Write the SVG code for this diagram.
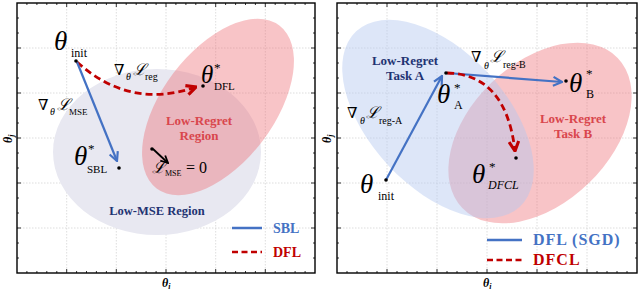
<svg xmlns="http://www.w3.org/2000/svg" width="640" height="291" viewBox="0 0 640 291">
<defs>
<style>
.frame{fill:none;stroke:#000;stroke-width:1.4}
.grid{stroke:#d4d4d4;stroke-width:0.8;stroke-dasharray:1.5,1.5}
.tick{stroke:#000;stroke-width:0.8}
.th{font-family:"Liberation Serif","DejaVu Serif",serif;font-style:italic;fill:#000}
.rm{font-family:"Liberation Serif","DejaVu Serif",serif;fill:#000}
.cal{font-family:"DejaVu Serif","Liberation Serif",serif;font-style:italic;fill:#000}
.lbl{font-family:"Liberation Serif","DejaVu Serif",serif;font-weight:bold}
.navy{fill:#1f3372}
.redt{fill:#d9464d}
.blue{stroke:#4472c4;stroke-width:2.2;fill:none}
.red{stroke:#c00000;stroke-width:2.8;fill:none;stroke-dasharray:7,4}
.blk{stroke:#000;stroke-width:1.8;fill:none}
.dot{fill:#000}
.pink{fill:#ee6b73;fill-opacity:0.4}
.gray{fill:#e8e8f1}
.lblue{fill:#b4c8f0;fill-opacity:0.45}
.ax{font-family:"Liberation Serif","DejaVu Serif",serif;font-weight:bold;font-style:italic;fill:#000}
</style>
<marker id="ab" viewBox="0 0 10 10" refX="9" refY="5" markerWidth="11" markerHeight="11" markerUnits="userSpaceOnUse" orient="auto"><path d="M1,1 L9,5 L1,9" fill="none" stroke="#4472c4" stroke-width="2"/></marker>
<marker id="ar" viewBox="0 0 10 10" refX="9" refY="5" markerWidth="12" markerHeight="12" markerUnits="userSpaceOnUse" orient="auto"><path d="M1,1 L9,5 L1,9" fill="none" stroke="#c00000" stroke-width="2.6"/></marker>
<marker id="ak" viewBox="0 0 10 10" refX="9" refY="5" markerWidth="9" markerHeight="9" markerUnits="userSpaceOnUse" orient="auto"><path d="M1,1 L9,5 L1,9" fill="none" stroke="#000" stroke-width="2"/></marker>
</defs>
<rect width="640" height="291" fill="#fff"/>

<!-- LEFT PANEL -->
<g id="left-grid">
<path class="grid" d="M66.7,3V273M116.3,3V273M166,3V273M215.7,3V273M265.3,3V273M17,48H315M17,93H315M17,138H315M17,183H315M17,228H315"/>
</g>
<g id="low-mse-region"><ellipse class="gray" cx="157" cy="152" rx="104" ry="83"/></g>
<g id="low-regret-region"><ellipse class="pink" cx="218" cy="107" rx="102" ry="56" transform="rotate(-53 218 107)"/></g>
<g id="left-ticks">
<path class="tick" d="M66.7,3v4M116.3,3v4M166,3v4M215.7,3v4M265.3,3v4M66.7,273v-4M116.3,273v-4M166,273v-4M215.7,273v-4M265.3,273v-4M17,48h4M17,93h4M17,138h4M17,183h4M17,228h4M315,48h-4M315,93h-4M315,138h-4M315,183h-4M315,228h-4"/>
<path class="tick" d="M26.9,3v2M36.9,3v2M46.8,3v2M56.8,3v2M76.6,3v2M86.5,3v2M96.4,3v2M106.4,3v2M126.2,3v2M136.2,3v2M146.1,3v2M156.1,3v2M175.9,3v2M185.9,3v2M195.8,3v2M205.8,3v2M225.6,3v2M235.6,3v2M245.5,3v2M255.4,3v2M275.2,3v2M285.2,3v2M295.1,3v2M305.1,3v2M26.9,273v-2M36.9,273v-2M46.8,273v-2M56.8,273v-2M76.6,273v-2M86.5,273v-2M96.4,273v-2M106.4,273v-2M126.2,273v-2M136.2,273v-2M146.1,273v-2M156.1,273v-2M175.9,273v-2M185.9,273v-2M195.8,273v-2M205.8,273v-2M225.6,273v-2M235.6,273v-2M245.5,273v-2M255.4,273v-2M275.2,273v-2M285.2,273v-2M295.1,273v-2M305.1,273v-2"/>
<path class="tick" d="M17,18h2M17,33h2M17,63h2M17,78h2M17,108h2M17,123h2M17,153h2M17,168h2M17,198h2M17,213h2M17,243h2M17,258h2M315,18h-2M315,33h-2M315,63h-2M315,78h-2M315,108h-2M315,123h-2M315,153h-2M315,168h-2M315,198h-2M315,213h-2M315,243h-2M315,258h-2"/>
</g>
<rect class="frame" x="17" y="3" width="298" height="270"/>

<g id="left-connectors">
<path class="red" d="M77,62 Q130,110 196,87" marker-end="url(#ar)"/>
<path class="blue" d="M77,62 L117,161" marker-end="url(#ab)"/>
<path class="blk" d="M153,149 L168,163" marker-end="url(#ak)"/>
</g>

<g id="theta-init-left">
<circle class="dot" cx="76" cy="61" r="1.8"/>
<text class="th" x="54" y="50" font-size="27">θ</text>
<text class="rm" x="71" y="57" font-size="12">init</text>
</g>
<g id="theta-dfl">
<circle class="dot" cx="203" cy="86" r="1.8"/>
<text class="th" x="201" y="83" font-size="25">θ</text>
<text class="rm" x="214" y="72" font-size="13">*</text>
<text class="rm" x="214" y="90" font-size="11">DFL</text>
</g>
<g id="grad-reg-label">
<text class="rm" x="114" y="75" font-size="15">∇</text>
<text class="th" x="126" y="80" font-size="10">θ</text>
<text class="cal" x="133" y="75" font-size="16">ℒ</text>
<text class="rm" x="145" y="80" font-size="10">reg</text>
</g>
<g id="grad-mse-label">
<text class="rm" x="38" y="110" font-size="15">∇</text>
<text class="th" x="50" y="115" font-size="10">θ</text>
<text class="cal" x="57" y="110" font-size="16">ℒ</text>
<text class="rm" x="69" y="115" font-size="9">MSE</text>
</g>
<g id="theta-sbl">
<circle class="dot" cx="119" cy="168" r="1.8"/>
<text class="th" x="74" y="165" font-size="27">θ</text>
<text class="rm" x="88" y="153" font-size="13">*</text>
<text class="rm" x="87" y="173" font-size="11">SBL</text>
</g>
<g id="mse-zero">
<circle class="dot" cx="152" cy="149" r="1.8"/>
<text class="cal" x="152" y="173" font-size="16">ℒ</text>
<text class="rm" x="165" y="176" font-size="8">MSE</text>
<text class="rm" x="186" y="173" font-size="16">= 0</text>
</g>
<g id="low-regret-label">
<text class="lbl redt" x="199" y="125" font-size="13" text-anchor="middle">Low-Regret</text>
<text class="lbl redt" x="199" y="140" font-size="13" text-anchor="middle">Region</text>
</g>
<g id="low-mse-label"><text class="lbl navy" x="157" y="215" font-size="12.5" text-anchor="middle">Low-MSE Region</text></g>
<g id="legend-left">
<path d="M232,228H262" stroke="#4472c4" stroke-width="2.5"/>
<text class="lbl" x="273" y="233" font-size="14" fill="#4472c4">SBL</text>
<path d="M232,252H262" stroke="#c00000" stroke-width="2.5" stroke-dasharray="6,3.5"/>
<text class="lbl" x="273" y="257" font-size="14" fill="#c00000">DFL</text>
</g>
<g id="axes-left">
<text class="ax" x="162" y="287" font-size="12">θ<tspan font-size="8" dy="2">i</tspan></text>
<text class="ax" transform="translate(12,143) rotate(-90)" font-size="12">θ<tspan font-size="8" dy="2">j</tspan></text>
</g>

<!-- RIGHT PANEL -->
<g id="right-grid">
<path class="grid" d="M387,3V273M437,3V273M487,3V273M537,3V273M587,3V273M337,48H637M337,93H637M337,138H637M337,183H637M337,228H637"/>
</g>
<g id="low-regret-task-b"><ellipse class="pink" cx="540" cy="133" rx="108" ry="70" transform="rotate(-44 540 133)"/></g>
<g id="low-regret-task-a"><ellipse class="lblue" cx="438" cy="119" rx="120" ry="68" transform="rotate(47 438 119)"/></g>
<g id="right-ticks">
<path class="tick" d="M387,3v4M437,3v4M487,3v4M537,3v4M587,3v4M387,273v-4M437,273v-4M487,273v-4M537,273v-4M587,273v-4M337,48h4M337,93h4M337,138h4M337,183h4M337,228h4M637,48h-4M637,93h-4M637,138h-4M637,183h-4M637,228h-4"/>
<path class="tick" d="M347,3v2M357,3v2M367,3v2M377,3v2M397,3v2M407,3v2M417,3v2M427,3v2M447,3v2M457,3v2M467,3v2M477,3v2M497,3v2M507,3v2M517,3v2M527,3v2M547,3v2M557,3v2M567,3v2M577,3v2M597,3v2M607,3v2M617,3v2M627,3v2M347,273v-2M357,273v-2M367,273v-2M377,273v-2M397,273v-2M407,273v-2M417,273v-2M427,273v-2M447,273v-2M457,273v-2M467,273v-2M477,273v-2M497,273v-2M507,273v-2M517,273v-2M527,273v-2M547,273v-2M557,273v-2M567,273v-2M577,273v-2M597,273v-2M607,273v-2M617,273v-2M627,273v-2"/>
<path class="tick" d="M337,18h2M337,33h2M337,63h2M337,78h2M337,108h2M337,123h2M337,153h2M337,168h2M337,198h2M337,213h2M337,243h2M337,258h2M637,18h-2M637,33h-2M637,63h-2M637,78h-2M637,108h-2M637,123h-2M637,153h-2M637,168h-2M637,198h-2M637,213h-2M637,243h-2M637,258h-2"/>
</g>
<rect class="frame" x="337" y="3" width="300" height="270"/>

<g id="right-connectors">
<path class="blue" d="M386,180 L442,76" marker-end="url(#ab)"/>
<path class="blue" d="M447,73 L562,82" marker-end="url(#ab)"/>
<path class="red" d="M447,73 Q506,74 515,151" marker-end="url(#ar)"/>
</g>

<g id="task-a-label">
<text class="lbl navy" x="405" y="65" font-size="13" text-anchor="middle">Low-Regret</text>
<text class="lbl navy" x="405" y="80" font-size="13" text-anchor="middle">Task A</text>
</g>
<g id="task-b-label">
<text class="lbl redt" x="573" y="123" font-size="13" text-anchor="middle">Low-Regret</text>
<text class="lbl redt" x="573" y="138" font-size="13" text-anchor="middle">Task B</text>
</g>
<g id="theta-a">
<circle class="dot" cx="446" cy="73" r="1.8"/>
<text class="th" x="437" y="103" font-size="27">θ</text>
<text class="rm" x="454" y="92" font-size="13">*</text>
<text class="rm" x="454" y="109" font-size="12">A</text>
</g>
<g id="theta-b">
<circle class="dot" cx="566" cy="81" r="1.8"/>
<text class="th" x="569" y="92" font-size="27">θ</text>
<text class="rm" x="586" y="78" font-size="13">*</text>
<text class="rm" x="586" y="98" font-size="12">B</text>
</g>
<g id="theta-dfcl">
<circle class="dot" cx="516" cy="158" r="1.8"/>
<text class="th" x="472" y="183" font-size="27">θ</text>
<text class="rm" x="489" y="171" font-size="13">*</text>
<text class="th" x="488" y="189" font-size="12">DFCL</text>
</g>
<g id="theta-init-right">
<circle class="dot" cx="386" cy="180" r="1.8"/>
<text class="th" x="360" y="193" font-size="27">θ</text>
<text class="rm" x="378" y="200" font-size="12">init</text>
</g>
<g id="grad-reg-b-label">
<text class="rm" x="471" y="62" font-size="15">∇</text>
<text class="th" x="484" y="69" font-size="10">θ</text>
<text class="cal" x="490" y="62" font-size="16">ℒ</text>
<text class="rm" x="503" y="68" font-size="10">reg-B</text>
</g>
<g id="grad-reg-a-label">
<text class="rm" x="347" y="118" font-size="15">∇</text>
<text class="th" x="360" y="124" font-size="10">θ</text>
<text class="cal" x="366" y="118" font-size="16">ℒ</text>
<text class="rm" x="379" y="124" font-size="10">reg-A</text>
</g>
<g id="legend-right">
<path d="M487,240H522" stroke="#4472c4" stroke-width="2.5"/>
<text class="lbl" x="533" y="245" font-size="16" letter-spacing="1" fill="#4472c4">DFL (SGD)</text>
<path d="M487,260H522" stroke="#c00000" stroke-width="2.5" stroke-dasharray="6,3.5"/>
<text class="lbl" x="533" y="265" font-size="16" letter-spacing="1" fill="#c00000">DFCL</text>
</g>
<g id="axes-right">
<text class="ax" x="483" y="287" font-size="12">θ<tspan font-size="8" dy="2">i</tspan></text>
<text class="ax" transform="translate(331,143) rotate(-90)" font-size="12">θ<tspan font-size="8" dy="2">j</tspan></text>
</g>
</svg>
